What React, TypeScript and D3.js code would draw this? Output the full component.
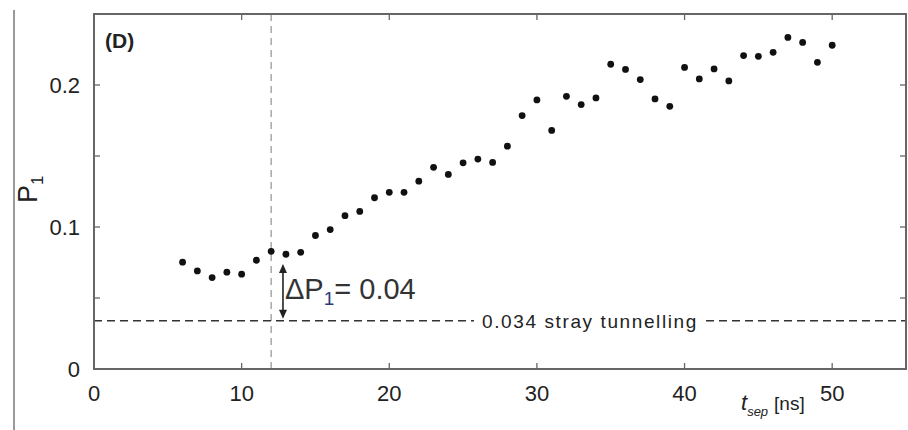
import React from 'react';
import * as d3 from 'd3';

const tSep = [6, 7, 8, 9, 10, 11, 12, 13, 14, 15, 16, 17, 18, 19, 20, 21, 22, 23, 24, 25, 26, 27, 28, 29, 30, 31, 32, 33, 34, 35, 36, 37, 38, 39, 40, 41, 42, 43, 44, 45, 46, 47, 48, 49, 50];
const p1 = [0.0752, 0.0691, 0.0644, 0.0682, 0.0668, 0.0766, 0.0829, 0.0808, 0.0822, 0.094, 0.0982, 0.108, 0.111, 0.1206, 0.1244, 0.1244, 0.1323, 0.142, 0.137, 0.1452, 0.1478, 0.1455, 0.1569, 0.1785, 0.1895, 0.168, 0.192, 0.1862, 0.1909, 0.2146, 0.211, 0.2038, 0.1902, 0.185, 0.2124, 0.2043, 0.2113, 0.2029, 0.2207, 0.2202, 0.223, 0.2335, 0.23, 0.216, 0.228];
const xTicks = [0, 10, 20, 30, 40, 50];
const yTickMarks = [0.05, 0.1, 0.15, 0.2];
const yTickLabels = [0, 0.1, 0.2];
const strayLevel = 0.034;
const markerT = 12;
const arrowT = 12.8;
const deltaP = 0.04;

const W = 908;
const H = 430;
const font = '"Liberation Sans", Arial, Helvetica, sans-serif';

export default function App() {
  const x = d3.scaleLinear().domain([0, 55]).range([94, 906]);
  const y = d3.scaleLinear().domain([0, 0.25]).range([369, 14]);
  const [x0, x1] = x.range();
  const [yb, yt] = y.range();
  const yStray = y(strayLevel);
  const ax = x(arrowT);
  const aTop = y(strayLevel + deltaP);
  const aBot = y(strayLevel);
  const axisColor = '#666';
  const textColor = '#222';
  const labelStart = 474;
  const labelEnd = 706;

  return (
    <svg width={W} height={H} style={{ position: 'absolute', left: 0, top: 0, background: '#fff' }}>
      <rect x={0} y={0} width={W} height={H} fill="#fff" />
      {/* outer border line */}
      <line x1={14} x2={14} y1={10} y2={430} stroke="#9a9a9a" strokeWidth={2} />

      {/* vertical dashed marker */}
      <line x1={x(markerT)} x2={x(markerT)} y1={yt} y2={yb} stroke="#a8a8a8" strokeWidth={1.5} strokeDasharray="7 5" />

      {/* stray tunnelling dashed line */}
      <line x1={x0} x2={labelStart} y1={yStray} y2={yStray} stroke="#333" strokeWidth={1.5} strokeDasharray="8 5" />
      <line x1={labelEnd} x2={x1} y1={yStray} y2={yStray} stroke="#333" strokeWidth={1.5} strokeDasharray="8 5" />
      <text x={(labelStart + labelEnd) / 2} y={yStray + 7} textAnchor="middle" fontFamily={font} fontSize={19} letterSpacing={1.6} fill={textColor}>
        {`${strayLevel} stray tunnelling`}
      </text>

      {/* frame */}
      <rect x={x0} y={yt} width={x1 - x0} height={yb - yt} fill="none" stroke={axisColor} strokeWidth={2} />

      {/* x ticks */}
      {xTicks.filter(t => t > 0).map(t => (
        <g key={`xt${t}`}>
          <line x1={x(t)} x2={x(t)} y1={yb} y2={yb - 6} stroke={axisColor} strokeWidth={1.3} />
          <line x1={x(t)} x2={x(t)} y1={yt} y2={yt + 6} stroke={axisColor} strokeWidth={1.3} />
        </g>
      ))}
      {xTicks.map(t => (
        <text key={`xl${t}`} x={x(t)} y={401} textAnchor="middle" fontFamily={font} fontSize={22} fill={textColor}>
          {t}
        </text>
      ))}

      {/* y ticks */}
      {yTickMarks.map(v => (
        <g key={`yt${v}`}>
          <line x1={x0} x2={x0 + 6} y1={y(v)} y2={y(v)} stroke={axisColor} strokeWidth={1.3} />
          <line x1={x1} x2={x1 - 6} y1={y(v)} y2={y(v)} stroke={axisColor} strokeWidth={1.3} />
        </g>
      ))}
      {yTickLabels.map(v => (
        <text key={`yl${v}`} x={80} y={y(v) + 8} textAnchor="end" fontFamily={font} fontSize={22} fill={textColor}>
          {v}
        </text>
      ))}

      {/* axis labels */}
      <text transform={`translate(37, 203) rotate(-90)`} fontFamily={font} fontSize={27} fill={textColor}>
        P<tspan fontSize={17} dy={6}>1</tspan>
      </text>
      <text x={741} y={410} fontFamily={font} fontSize={19} fill={textColor}>
        <tspan fontStyle="italic" fontSize={22}>t</tspan>
        <tspan fontStyle="italic" fontSize={13} dy={6}>sep</tspan>
        <tspan dy={-6} dx={6} fontSize={19}>[ns]</tspan>
      </text>

      {/* panel label */}
      <text x={105} y={48} fontFamily={font} fontSize={21} fontWeight="bold" fill="#222">(D)</text>

      {/* arrow */}
      <line x1={ax} x2={ax} y1={aTop + 7} y2={aBot - 7} stroke="#222" strokeWidth={1.6} />
      <path d={`M${ax},${aTop} L${ax - 4},${aTop + 9} L${ax + 4},${aTop + 9} Z`} fill="#222" />
      <path d={`M${ax},${aBot - 2} L${ax - 4},${aBot - 11} L${ax + 4},${aBot - 11} Z`} fill="#222" />
      <text x={285} y={299} fontFamily={font} fontSize={29} fill="#333">
        ΔP<tspan fontSize={19} dy={6} fill="#2c3a78">1</tspan><tspan dy={-6}>= {deltaP}</tspan>
      </text>

      {/* data points */}
      {tSep.map((t, i) => (
        <circle key={`p${t}`} cx={x(t)} cy={y(p1[i])} r={3.4} fill="#111" />
      ))}
    </svg>
  );
}
